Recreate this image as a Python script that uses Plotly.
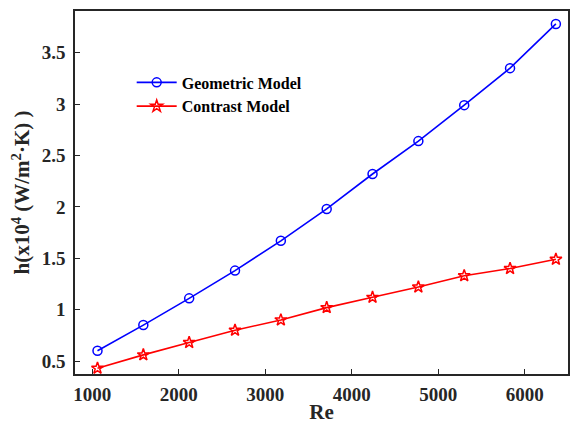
import plotly.graph_objects as go

# Reynolds number and heat transfer coefficient (x10^4 W/m^2·K)
re_values = [1060, 1590, 2120, 2650, 3180, 3710, 4240, 4770, 5300, 5830, 6360]
h_geometric = [0.60, 0.85, 1.11, 1.38, 1.67, 1.98, 2.32, 2.64, 2.99, 3.35, 3.78]
h_contrast = [0.43, 0.56, 0.68, 0.80, 0.90, 1.02, 1.12, 1.22, 1.33, 1.40, 1.49]

x_ticks = [1000, 2000, 3000, 4000, 5000, 6000]
y_ticks = [0.5, 1, 1.5, 2, 2.5, 3, 3.5]

serif = "Liberation Serif"

fig = go.Figure()
fig.add_trace(go.Scatter(
    x=re_values, y=h_geometric, mode="lines+markers", name="Geometric Model",
    line=dict(color="#0000ff", width=1.6),
    marker=dict(symbol="circle-open", size=9, color="#0000ff", line=dict(width=1.5)),
))
fig.add_trace(go.Scatter(
    x=re_values, y=h_contrast, mode="lines+markers", name="Contrast Model",
    line=dict(color="#ff0000", width=1.6),
    marker=dict(symbol="star-open", size=9, color="#ff0000", line=dict(width=1.5)),
))

axis_common = dict(
    showgrid=False, zeroline=False, showline=True, linecolor="#262626",
    linewidth=1.5, mirror=True, ticks="inside", ticklen=5, tickwidth=1,
    tickcolor="#262626",
    tickfont=dict(family=serif, size=19, color="#262626", weight="bold"),
)

fig.update_xaxes(
    range=[800, 6500], tickvals=x_ticks, ticklabelstandoff=2,
    title=dict(text="Re", font=dict(family=serif, size=21, color="#262626", weight="bold"),
               standoff=3),
    **axis_common,
)
fig.update_yaxes(
    range=[0.374, 3.906], tickvals=y_ticks, ticklabelstandoff=4,
    title=dict(text="h(x10<sup>4</sup> (W/m<sup>2</sup>·K) )",
               font=dict(family=serif, size=21, color="#262626", weight="bold"),
               standoff=6),
    **axis_common,
)

fig.update_layout(
    width=571, height=424,
    margin=dict(l=75, r=1, t=11, b=50),
    paper_bgcolor="white", plot_bgcolor="white",
    showlegend=True,
    legend=dict(
        x=0.115, y=0.85, xanchor="left", yanchor="top",
        bgcolor="rgba(0,0,0,0)", borderwidth=0,
        font=dict(family=serif, size=16, color="black", weight="bold"),
        tracegroupgap=0, itemwidth=40,
    ),
)

fig.write_html("out.html")
